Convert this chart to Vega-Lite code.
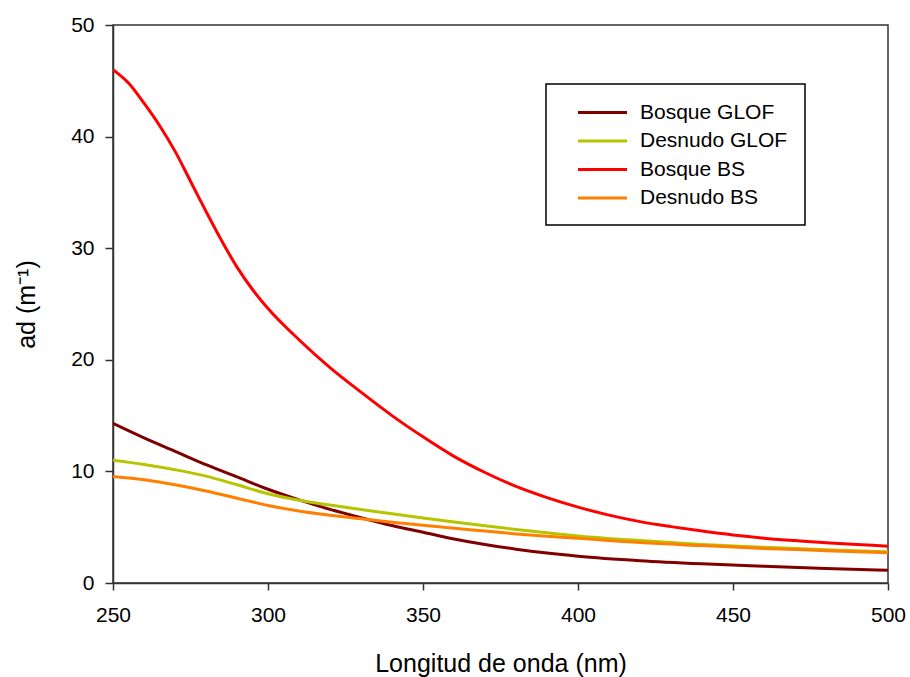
{
  "$schema": "https://vega.github.io/schema/vega-lite/v6.json",
  "autosize": "none",
  "width": 775,
  "height": 558,
  "padding": {"left": 113, "top": 25, "right": 22, "bottom": 94},
  "background": "white",
  "config": {
    "font": "Liberation Sans",
    "view": {"stroke": "#333333", "strokeWidth": 1.5},
    "axis": {
      "grid": false,
      "domainColor": "#333333",
      "domainWidth": 1.5,
      "tickColor": "#333333",
      "tickWidth": 1.5,
      "tickSize": 7,
      "labelFont": "Liberation Sans",
      "labelFontSize": 21,
      "labelColor": "#000000",
      "titleFont": "Liberation Sans",
      "titleFontSize": 25,
      "titleFontWeight": "normal",
      "titleColor": "#000000"
    },
    "legend": {
      "labelFont": "Liberation Sans",
      "labelFontSize": 21,
      "labelColor": "#000000"
    }
  },
  "data": {
    "values": [
      {"wl": 250, "ad": 14.3, "serie": "Bosque GLOF"},
      {"wl": 260, "ad": 13.0, "serie": "Bosque GLOF"},
      {"wl": 270, "ad": 11.8, "serie": "Bosque GLOF"},
      {"wl": 280, "ad": 10.6, "serie": "Bosque GLOF"},
      {"wl": 290, "ad": 9.5, "serie": "Bosque GLOF"},
      {"wl": 300, "ad": 8.4, "serie": "Bosque GLOF"},
      {"wl": 310, "ad": 7.45, "serie": "Bosque GLOF"},
      {"wl": 320, "ad": 6.6, "serie": "Bosque GLOF"},
      {"wl": 330, "ad": 5.85, "serie": "Bosque GLOF"},
      {"wl": 340, "ad": 5.15, "serie": "Bosque GLOF"},
      {"wl": 350, "ad": 4.55, "serie": "Bosque GLOF"},
      {"wl": 360, "ad": 3.95, "serie": "Bosque GLOF"},
      {"wl": 370, "ad": 3.45, "serie": "Bosque GLOF"},
      {"wl": 380, "ad": 3.03, "serie": "Bosque GLOF"},
      {"wl": 390, "ad": 2.68, "serie": "Bosque GLOF"},
      {"wl": 400, "ad": 2.4, "serie": "Bosque GLOF"},
      {"wl": 420, "ad": 2.0, "serie": "Bosque GLOF"},
      {"wl": 440, "ad": 1.72, "serie": "Bosque GLOF"},
      {"wl": 460, "ad": 1.5, "serie": "Bosque GLOF"},
      {"wl": 480, "ad": 1.3, "serie": "Bosque GLOF"},
      {"wl": 500, "ad": 1.15, "serie": "Bosque GLOF"},

      {"wl": 250, "ad": 11.0, "serie": "Desnudo GLOF"},
      {"wl": 260, "ad": 10.62, "serie": "Desnudo GLOF"},
      {"wl": 270, "ad": 10.15, "serie": "Desnudo GLOF"},
      {"wl": 280, "ad": 9.58, "serie": "Desnudo GLOF"},
      {"wl": 290, "ad": 8.8, "serie": "Desnudo GLOF"},
      {"wl": 300, "ad": 8.0, "serie": "Desnudo GLOF"},
      {"wl": 310, "ad": 7.42, "serie": "Desnudo GLOF"},
      {"wl": 320, "ad": 6.98, "serie": "Desnudo GLOF"},
      {"wl": 330, "ad": 6.58, "serie": "Desnudo GLOF"},
      {"wl": 340, "ad": 6.2, "serie": "Desnudo GLOF"},
      {"wl": 350, "ad": 5.82, "serie": "Desnudo GLOF"},
      {"wl": 360, "ad": 5.46, "serie": "Desnudo GLOF"},
      {"wl": 370, "ad": 5.12, "serie": "Desnudo GLOF"},
      {"wl": 380, "ad": 4.8, "serie": "Desnudo GLOF"},
      {"wl": 390, "ad": 4.5, "serie": "Desnudo GLOF"},
      {"wl": 400, "ad": 4.22, "serie": "Desnudo GLOF"},
      {"wl": 420, "ad": 3.8, "serie": "Desnudo GLOF"},
      {"wl": 440, "ad": 3.45, "serie": "Desnudo GLOF"},
      {"wl": 460, "ad": 3.2, "serie": "Desnudo GLOF"},
      {"wl": 480, "ad": 2.98, "serie": "Desnudo GLOF"},
      {"wl": 500, "ad": 2.8, "serie": "Desnudo GLOF"},

      {"wl": 250, "ad": 46.0, "serie": "Bosque BS"},
      {"wl": 255, "ad": 44.8, "serie": "Bosque BS"},
      {"wl": 260, "ad": 43.0, "serie": "Bosque BS"},
      {"wl": 265, "ad": 41.0, "serie": "Bosque BS"},
      {"wl": 270, "ad": 38.7, "serie": "Bosque BS"},
      {"wl": 275, "ad": 36.0, "serie": "Bosque BS"},
      {"wl": 280, "ad": 33.3, "serie": "Bosque BS"},
      {"wl": 285, "ad": 30.7, "serie": "Bosque BS"},
      {"wl": 290, "ad": 28.3, "serie": "Bosque BS"},
      {"wl": 295, "ad": 26.3, "serie": "Bosque BS"},
      {"wl": 300, "ad": 24.6, "serie": "Bosque BS"},
      {"wl": 310, "ad": 21.8, "serie": "Bosque BS"},
      {"wl": 320, "ad": 19.3, "serie": "Bosque BS"},
      {"wl": 330, "ad": 17.1, "serie": "Bosque BS"},
      {"wl": 340, "ad": 15.0, "serie": "Bosque BS"},
      {"wl": 350, "ad": 13.1, "serie": "Bosque BS"},
      {"wl": 360, "ad": 11.35, "serie": "Bosque BS"},
      {"wl": 370, "ad": 9.9, "serie": "Bosque BS"},
      {"wl": 380, "ad": 8.65, "serie": "Bosque BS"},
      {"wl": 390, "ad": 7.65, "serie": "Bosque BS"},
      {"wl": 400, "ad": 6.8, "serie": "Bosque BS"},
      {"wl": 410, "ad": 6.08, "serie": "Bosque BS"},
      {"wl": 420, "ad": 5.5, "serie": "Bosque BS"},
      {"wl": 430, "ad": 5.05, "serie": "Bosque BS"},
      {"wl": 440, "ad": 4.65, "serie": "Bosque BS"},
      {"wl": 450, "ad": 4.3, "serie": "Bosque BS"},
      {"wl": 460, "ad": 4.02, "serie": "Bosque BS"},
      {"wl": 470, "ad": 3.8, "serie": "Bosque BS"},
      {"wl": 480, "ad": 3.6, "serie": "Bosque BS"},
      {"wl": 490, "ad": 3.45, "serie": "Bosque BS"},
      {"wl": 500, "ad": 3.3, "serie": "Bosque BS"},

      {"wl": 250, "ad": 9.55, "serie": "Desnudo BS"},
      {"wl": 260, "ad": 9.25, "serie": "Desnudo BS"},
      {"wl": 270, "ad": 8.8, "serie": "Desnudo BS"},
      {"wl": 280, "ad": 8.25, "serie": "Desnudo BS"},
      {"wl": 290, "ad": 7.6, "serie": "Desnudo BS"},
      {"wl": 300, "ad": 6.95, "serie": "Desnudo BS"},
      {"wl": 310, "ad": 6.45, "serie": "Desnudo BS"},
      {"wl": 320, "ad": 6.07, "serie": "Desnudo BS"},
      {"wl": 330, "ad": 5.75, "serie": "Desnudo BS"},
      {"wl": 340, "ad": 5.45, "serie": "Desnudo BS"},
      {"wl": 350, "ad": 5.18, "serie": "Desnudo BS"},
      {"wl": 360, "ad": 4.9, "serie": "Desnudo BS"},
      {"wl": 370, "ad": 4.65, "serie": "Desnudo BS"},
      {"wl": 380, "ad": 4.4, "serie": "Desnudo BS"},
      {"wl": 390, "ad": 4.19, "serie": "Desnudo BS"},
      {"wl": 400, "ad": 4.0, "serie": "Desnudo BS"},
      {"wl": 420, "ad": 3.62, "serie": "Desnudo BS"},
      {"wl": 440, "ad": 3.35, "serie": "Desnudo BS"},
      {"wl": 460, "ad": 3.1, "serie": "Desnudo BS"},
      {"wl": 480, "ad": 2.9, "serie": "Desnudo BS"},
      {"wl": 500, "ad": 2.7, "serie": "Desnudo BS"}
    ]
  },
  "mark": {"type": "line", "strokeWidth": 3, "interpolate": "monotone", "clip": true},
  "encoding": {
    "x": {
      "field": "wl",
      "type": "quantitative",
      "scale": {"domain": [250, 500], "nice": false, "zero": false},
      "axis": {
        "title": "Longitud de onda (nm)",
        "values": [250, 300, 350, 400, 450, 500],
        "labelPadding": 14,
        "titlePadding": 26,
        "labelFlush": false
      }
    },
    "y": {
      "field": "ad",
      "type": "quantitative",
      "scale": {"domain": [0, 50], "nice": false},
      "axis": {
        "title": "ad (m⁻¹)",
        "values": [0, 10, 20, 30, 40, 50],
        "labelPadding": 11,
        "titlePadding": 31,
        "labelFlush": false,
        "tickSize": 8
      }
    },
    "color": {
      "field": "serie",
      "type": "nominal",
      "scale": {
        "domain": ["Bosque GLOF", "Desnudo GLOF", "Bosque BS", "Desnudo BS"],
        "range": ["#800000", "#b7c400", "#ff0000", "#ff8000"]
      },
      "legend": {
        "title": null,
        "orient": "none",
        "legendX": 433,
        "legendY": 59,
        "strokeColor": "#000000",
        "fillColor": "#ffffff",
        "padding": 17,
        "symbolType": "M-2.45,0H2.45",
        "symbolSize": 400,
        "symbolStrokeWidth": 3,
        "symbolOffset": 28,
        "labelOffset": 26,
        "rowPadding": 6.5,
        "encode": {"legend": {"update": {"strokeWidth": {"value": 1.5}, "width": {"value": 329}}}}
      }
    },
    "order": {"field": "serie"}
  }
}
